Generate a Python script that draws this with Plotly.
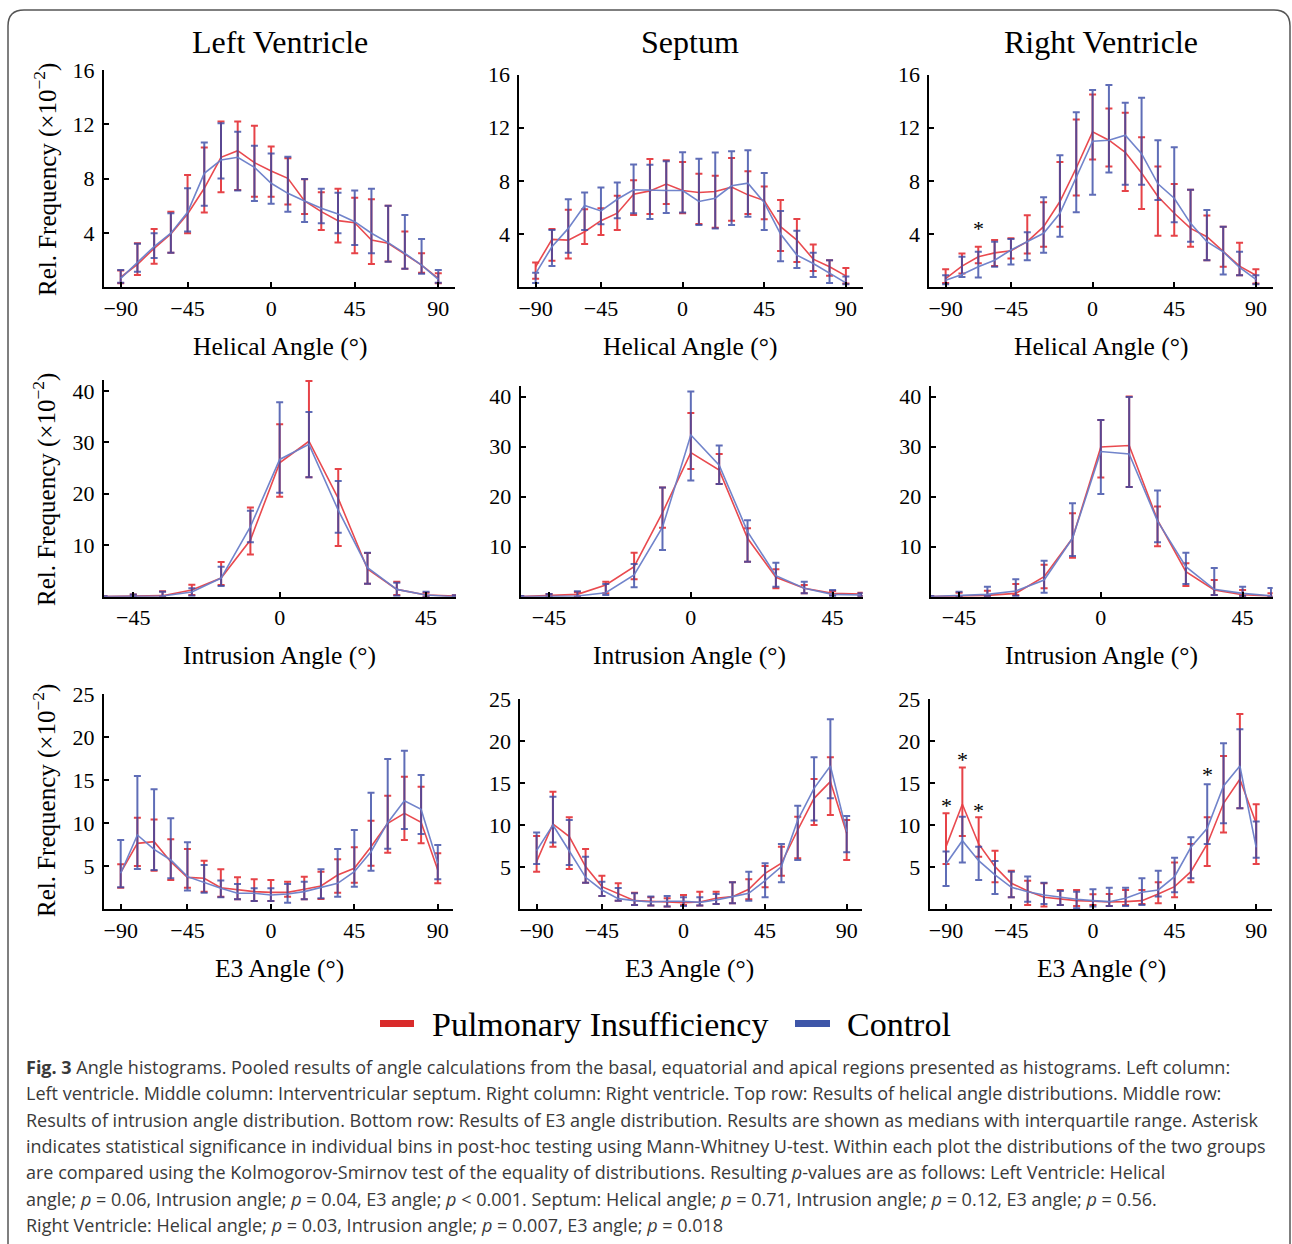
import plotly.graph_objects as go

W, H = 1292, 1244
SERIF = "Liberation Serif, Times New Roman, serif"
SANS = "Open Sans, Noto Sans, sans-serif"

# ---------------- data (medians and interquartile range, x10^-2) ----------------
bins20 = list(range(1, 21))                      # helical / E3 bin index
bins_intr = [-54, -45, -36, -27, -18, -9, 0, 9, 18, 27, 36, 45, 54]   # intrusion angle bins
tick20_vals = [1, 5, 10, 15, 20]
tick20_text = ["\u221290", "\u221245", "0", "45", "90"]
tickintr_vals = [-45, 0, 45]
tickintr_text = ["\u221245", "0", "45"]

groups = ["Pulmonary Insufficiency", "Control"]

# Left ventricle - helical
lv_hel_pi_med = [0.74, 1.69, 2.87, 3.93, 5.4, 7.29, 9.57, 10.06, 9.18, 8.56, 8.02, 6.36, 5.57, 4.91, 4.76, 3.48, 3.24, 2.45, 1.64, 0.66]
lv_hel_pi_lo = [0.29, 0.9, 1.74, 2.55, 3.98, 5.5, 7.0, 7.17, 6.67, 6.67, 6.09, 5.4, 4.22, 3.29, 2.5, 1.72, 1.9, 1.37, 1.08, 0.29]
lv_hel_pi_hi = [1.23, 3.24, 4.3, 5.57, 8.27, 10.3, 12.2, 12.2, 11.9, 10.36, 9.5, 7.95, 7.0, 7.26, 6.6, 6.48, 6.0, 4.1, 2.5, 1.03]
lv_hel_ctl_med = [0.66, 1.84, 3.0, 3.98, 5.52, 8.39, 9.37, 9.57, 8.83, 7.66, 6.92, 6.36, 5.82, 5.4, 4.83, 3.98, 3.29, 2.5, 1.64, 0.59]
lv_hel_ctl_lo = [0.34, 1.15, 2.16, 2.55, 4.1, 6.01, 8.02, 7.12, 6.36, 6.16, 5.57, 4.81, 4.71, 3.98, 3.12, 2.5, 1.89, 1.37, 1.0, 0.34]
lv_hel_ctl_hi = [1.28, 3.2, 3.98, 5.45, 7.29, 10.67, 12.07, 11.46, 10.43, 9.86, 9.62, 7.98, 7.26, 6.97, 7.12, 7.26, 6.01, 5.33, 3.56, 1.28]

# Septum - helical
sep_hel_pi_med = [1.54, 3.6, 3.55, 4.18, 5.01, 5.57, 7.0, 7.25, 7.76, 7.28, 7.13, 7.2, 7.53, 6.95, 6.52, 4.56, 3.55, 2.12, 1.54, 0.86]
sep_hel_pi_lo = [0.65, 1.99, 2.17, 3.25, 3.93, 4.3, 5.44, 5.52, 6.27, 5.57, 4.76, 4.48, 5.01, 5.52, 5.11, 2.72, 1.91, 1.23, 0.86, 0.28]
sep_hel_pi_hi = [1.86, 4.38, 5.84, 5.87, 5.94, 6.88, 8.04, 9.65, 9.55, 9.42, 8.54, 8.39, 9.72, 8.72, 7.58, 6.57, 5.14, 3.22, 2.04, 1.46]
sep_hel_ctl_med = [1.03, 3.05, 4.43, 6.15, 5.74, 6.62, 7.33, 7.28, 7.28, 7.28, 6.45, 6.7, 7.63, 7.83, 6.37, 4.0, 2.42, 1.79, 1.03, 0.33]
sep_hel_ctl_lo = [0.33, 1.61, 2.59, 4.3, 4.74, 5.19, 5.57, 5.14, 5.59, 5.62, 4.69, 4.43, 4.69, 5.31, 4.3, 1.96, 1.46, 0.78, 0.33, 0.23]
sep_hel_ctl_hi = [1.1, 4.3, 6.62, 7.13, 7.5, 7.88, 9.24, 9.22, 9.47, 10.15, 9.67, 10.13, 10.23, 10.3, 8.59, 5.74, 4.26, 2.59, 2.04, 0.81]

# Right ventricle - helical
rv_hel_pi_med = [0.65, 1.59, 2.29, 2.59, 2.75, 3.43, 4.56, 6.45, 8.97, 11.69, 11.06, 10.15, 8.59, 6.83, 5.57, 4.43, 3.8, 2.67, 1.59, 0.91]
rv_hel_pi_lo = [0.33, 1.03, 1.8, 1.61, 2.17, 2.54, 3.05, 4.56, 6.9, 9.6, 9.09, 7.25, 5.89, 3.88, 3.88, 3.05, 2.04, 1.54, 0.91, 0.28]
rv_hel_pi_hi = [1.36, 2.54, 3.05, 3.55, 3.68, 5.42, 6.4, 9.42, 12.62, 14.5, 13.45, 13.12, 11.28, 9.09, 7.76, 7.33, 5.39, 4.56, 3.35, 1.36]
rv_hel_ctl_med = [0.53, 0.96, 1.54, 2.04, 2.8, 3.43, 4.06, 5.57, 8.34, 10.98, 11.06, 11.44, 10.05, 7.78, 6.7, 4.81, 3.43, 2.67, 1.49, 0.6]
rv_hel_ctl_lo = [0.23, 0.78, 0.73, 1.54, 1.71, 2.04, 2.59, 3.8, 5.64, 6.95, 8.64, 7.71, 7.71, 6.57, 4.89, 3.43, 2.04, 0.96, 0.91, 0.23]
rv_hel_ctl_hi = [0.91, 2.29, 2.67, 3.43, 3.63, 4.13, 6.78, 9.92, 13.17, 14.84, 15.21, 13.88, 14.26, 11.06, 10.53, 7.33, 5.82, 4.56, 2.67, 0.91]
rv_hel_sig_bins = [3]
rv_hel_sig_y = [4.83]

# Left ventricle - intrusion
lv_int_pi_med = [0.05, 0.13, 0.2, 1.29, 3.62, 11.0, 26.0, 30.2, 19.1, 5.37, 1.42, 0.32, 0.13]
lv_int_pi_lo = [0.0, 0.0, 0.0, 0.32, 2.27, 8.22, 19.4, 23.2, 9.84, 2.52, 0.32, 0.0, 0.0]
lv_int_pi_hi = [0.1, 0.45, 1.04, 2.33, 6.73, 17.35, 33.5, 41.9, 24.8, 8.5, 2.9, 0.78, 0.3]
lv_int_ctl_med = [0.05, 0.13, 0.13, 0.9, 3.62, 13.59, 26.67, 29.6, 16.8, 5.63, 1.42, 0.32, 0.0]
lv_int_ctl_lo = [0.0, 0.0, 0.0, 0.2, 2.07, 10.6, 20.2, 23.2, 12.4, 2.52, 0.2, 0.0, 0.0]
lv_int_ctl_hi = [0.1, 0.45, 0.97, 1.62, 5.83, 16.7, 37.8, 35.9, 22.5, 8.54, 2.7, 0.97, 0.3]

# Septum - intrusion
sep_int_pi_med = [0.05, 0.2, 0.47, 2.33, 6.0, 16.8, 28.8, 25.3, 11.67, 3.87, 1.67, 0.67, 0.53]
sep_int_pi_lo = [0.0, 0.0, 0.0, 0.67, 3.47, 13.8, 25.5, 22.5, 7.0, 1.67, 0.67, 0.33, 0.13]
sep_int_pi_hi = [0.15, 0.53, 0.9, 3.0, 8.8, 21.8, 36.7, 28.5, 13.67, 5.47, 2.33, 1.13, 0.8]
sep_int_ctl_med = [0.05, 0.07, 0.13, 0.8, 4.33, 13.87, 32.3, 26.3, 13.0, 4.2, 1.67, 0.47, 0.33]
sep_int_ctl_lo = [0.0, 0.0, 0.0, 0.33, 1.87, 9.33, 23.2, 22.5, 7.0, 2.0, 0.67, 0.13, 0.13]
sep_int_ctl_hi = [0.15, 0.53, 1.07, 2.53, 6.53, 21.8, 41.0, 30.2, 15.3, 6.8, 3.0, 1.33, 0.67]

# Right ventricle - intrusion
rv_int_pi_med = [0.03, 0.13, 0.27, 0.67, 4.0, 11.67, 29.9, 30.2, 15.3, 5.0, 1.33, 0.4, 0.13]
rv_int_pi_lo = [0.0, 0.0, 0.13, 0.33, 1.67, 7.8, 23.8, 21.9, 10.1, 2.13, 0.33, 0.13, 0.0]
rv_int_pi_hi = [0.13, 0.8, 1.2, 2.53, 6.4, 16.67, 35.3, 40.0, 18.0, 6.67, 3.33, 1.33, 0.67]
rv_int_ctl_med = [0.03, 0.2, 0.47, 1.13, 3.33, 11.67, 29.0, 28.5, 15.1, 6.0, 1.47, 0.67, 0.2]
rv_int_ctl_lo = [0.0, 0.0, 0.13, 0.13, 0.8, 8.13, 20.5, 21.9, 10.9, 2.53, 0.33, 0.13, 0.0]
rv_int_ctl_hi = [0.13, 1.0, 2.0, 3.47, 7.2, 18.67, 35.3, 39.9, 21.2, 8.8, 5.73, 2.0, 1.73]

# Left ventricle - E3
lv_e3_pi_med = [4.26, 7.66, 7.85, 5.53, 3.71, 3.6, 2.51, 2.32, 2.05, 1.97, 1.97, 2.32, 2.71, 3.98, 4.76, 7.27, 9.98, 11.14, 10.1, 4.56]
lv_e3_pi_lo = [2.51, 5.03, 4.49, 3.4, 2.51, 2.05, 1.47, 1.16, 0.97, 0.97, 1.47, 1.16, 1.2, 1.93, 3.09, 5.07, 6.58, 8.05, 7.66, 3.02]
lv_e3_pi_hi = [5.22, 10.64, 10.44, 8.12, 7.0, 5.65, 4.64, 3.71, 3.48, 3.4, 3.21, 3.79, 4.37, 5.8, 7.2, 10.29, 13.19, 15.4, 14.24, 6.5]
lv_e3_ctl_med = [4.18, 8.63, 6.96, 5.73, 3.79, 3.09, 2.44, 1.86, 1.86, 1.66, 1.78, 2.05, 2.55, 3.02, 4.37, 6.69, 10.06, 12.61, 11.61, 5.34]
lv_e3_ctl_lo = [2.55, 4.68, 4.56, 3.6, 2.17, 1.93, 1.39, 1.16, 0.97, 0.97, 0.77, 1.16, 1.28, 1.47, 2.63, 4.49, 7.04, 9.32, 8.74, 3.48]
lv_e3_ctl_hi = [8.05, 15.47, 13.93, 10.56, 7.78, 5.14, 3.33, 2.94, 2.44, 2.44, 2.94, 3.21, 4.64, 7.0, 9.21, 13.54, 17.45, 18.41, 15.59, 7.47]

# Septum - E3
sep_e3_pi_med = [5.67, 10.16, 8.65, 5.08, 2.7, 1.83, 1.03, 0.95, 0.83, 0.79, 0.87, 1.31, 1.51, 2.38, 4.29, 5.48, 9.44, 13.21, 15.2, 9.05]
sep_e3_pi_lo = [4.48, 7.46, 4.8, 3.17, 1.59, 1.03, 0.52, 0.44, 0.32, 0.52, 0.44, 0.63, 0.71, 1.19, 2.62, 4.0, 6.07, 10.04, 11.23, 5.87]
sep_e3_pi_hi = [8.73, 14.0, 10.95, 7.18, 4.0, 3.1, 1.98, 1.43, 1.31, 1.71, 2.1, 2.1, 3.21, 3.57, 5.16, 7.46, 11.03, 15.52, 18.1, 10.63]
sep_e3_ctl_med = [6.98, 10.04, 6.94, 3.81, 2.3, 1.27, 1.03, 0.87, 0.95, 0.95, 0.83, 1.11, 1.51, 1.9, 3.41, 5.08, 10.63, 14.4, 17.06, 9.25]
sep_e3_ctl_lo = [5.4, 7.94, 5.28, 3.17, 1.59, 1.03, 0.52, 0.44, 0.32, 0.4, 0.44, 0.63, 0.71, 1.03, 1.43, 3.21, 5.87, 10.56, 13.21, 6.79]
sep_e3_ctl_hi = [9.13, 13.4, 10.63, 6.27, 3.29, 2.54, 1.9, 1.51, 1.59, 1.43, 1.43, 1.83, 3.21, 4.48, 5.48, 7.78, 12.34, 18.1, 22.62, 11.11]

# Right ventricle - E3
rv_e3_pi_med = [7.46, 12.5, 7.78, 5.08, 3.1, 2.18, 1.43, 1.19, 1.03, 0.95, 0.87, 0.91, 1.03, 1.83, 2.7, 4.48, 7.78, 12.62, 15.48, 10.24]
rv_e3_pi_lo = [5.4, 8.73, 6.27, 3.21, 1.43, 0.52, 0.32, 0.52, 0.4, 0.52, 0.4, 0.52, 0.63, 0.71, 1.43, 3.21, 5.16, 9.13, 12.02, 5.4]
rv_e3_pi_hi = [11.43, 16.87, 10.95, 6.98, 4.6, 3.41, 3.1, 2.3, 2.3, 1.79, 1.83, 2.3, 2.3, 3.21, 5.56, 7.78, 10.95, 18.25, 23.25, 12.5]
rv_e3_ctl_med = [5.4, 8.17, 5.79, 4.09, 2.62, 2.1, 1.71, 1.43, 1.19, 1.03, 0.91, 1.31, 2.02, 2.3, 3.89, 7.38, 9.64, 14.68, 17.06, 7.38]
rv_e3_ctl_lo = [2.78, 5.56, 3.49, 1.83, 1.43, 0.91, 0.63, 0.52, 0.12, 0.32, 0.4, 0.4, 0.52, 1.51, 2.02, 3.69, 7.78, 10.24, 12.02, 6.15]
rv_e3_ctl_hi = [6.87, 11.03, 7.46, 5.75, 4.48, 3.89, 3.17, 2.18, 2.1, 2.38, 2.58, 2.58, 3.69, 4.6, 6.15, 8.57, 14.88, 19.76, 21.43, 10.44]
rv_e3_sig_bins = [1, 2, 3, 17]
rv_e3_sig_y = [13.0, 18.45, 12.4, 16.6]

col_titles = ["Left Ventricle", "Septum", "Right Ventricle"]
row_xtitles = ["Helical Angle (\u00b0)", "Intrusion Angle (\u00b0)", "E3 Angle (\u00b0)"]
ytitle = "Rel. Frequency (\u00d710<sup>\u22122</sup>)"

caption_lines = [
    "<b>Fig. 3</b> Angle histograms. Pooled results of angle calculations from the basal, equatorial and apical regions presented as histograms. Left column:",
    "Left ventricle. Middle column: Interventricular septum. Right column: Right ventricle. Top row: Results of helical angle distributions. Middle row:",
    "Results of intrusion angle distribution. Bottom row: Results of E3 angle distribution. Results are shown as medians with interquartile range. Asterisk",
    "indicates statistical significance in individual bins in post-hoc testing using Mann-Whitney U-test. Within each plot the distributions of the two groups",
    "are compared using the Kolmogorov-Smirnov test of the equality of distributions. Resulting <i>p</i>-values are as follows: Left Ventricle: Helical",
    "angle; <i>p</i> = 0.06, Intrusion angle; <i>p</i> = 0.04, E3 angle; <i>p</i> &lt; 0.001. Septum: Helical angle; <i>p</i> = 0.71, Intrusion angle; <i>p</i> = 0.12, E3 angle; <i>p</i> = 0.56.",
    "Right Ventricle: Helical angle; <i>p</i> = 0.03, Intrusion angle; <i>p</i> = 0.007, E3 angle; <i>p</i> = 0.018",
]

# ---------------- styling / geometry ----------------
RED_LINE = "rgba(232,64,70,0.95)"
BLUE_LINE = "rgba(105,125,200,0.95)"
RED_ERR = "rgba(226,34,40,0.85)"
BLUE_ERR = "rgba(55,72,165,0.8)"
RED_LEG = "#D92B2B"
BLUE_LEG = "#3E56A8"


def fx(px):
    return px / W


def fy(py):
    return 1 - py / H


# panel: (data, x, xtickvals, xticktext, xrange, xdom_px, yrange, ydom_px(bottom, top), ytickvals)
panels = [
    ((lv_hel_pi_med, lv_hel_pi_lo, lv_hel_pi_hi, lv_hel_ctl_med, lv_hel_ctl_lo, lv_hel_ctl_hi), bins20, tick20_vals, tick20_text, [0, 21], (104, 455), [0, 16], (287.3, 70.0), [4, 8, 12, 16]),
    ((sep_hel_pi_med, sep_hel_pi_lo, sep_hel_pi_hi, sep_hel_ctl_med, sep_hel_ctl_lo, sep_hel_ctl_hi), bins20, tick20_vals, tick20_text, [0, 21.03], (519.3, 862.7), [0, 16], (287.3, 74.5), [4, 8, 12, 16]),
    ((rv_hel_pi_med, rv_hel_pi_lo, rv_hel_pi_hi, rv_hel_ctl_med, rv_hel_ctl_lo, rv_hel_ctl_hi), bins20, tick20_vals, tick20_text, [0, 21.03], (929.3, 1272.7), [0, 16], (287.3, 74.5), [4, 8, 12, 16]),
    ((lv_int_pi_med, lv_int_pi_lo, lv_int_pi_hi, lv_int_ctl_med, lv_int_ctl_lo, lv_int_ctl_hi), bins_intr, tickintr_vals, tickintr_text, [-54, 54.2], (104, 456), [0, 42.1], (596.7, 380.0), [10, 20, 30, 40]),
    ((sep_int_pi_med, sep_int_pi_lo, sep_int_pi_hi, sep_int_ctl_med, sep_int_ctl_lo, sep_int_ctl_hi), bins_intr, tickintr_vals, tickintr_text, [-54, 54.55], (520.7, 862.7), [0, 42.1], (596.7, 386.0), [10, 20, 30, 40]),
    ((rv_int_pi_med, rv_int_pi_lo, rv_int_pi_hi, rv_int_ctl_med, rv_int_ctl_lo, rv_int_ctl_hi), bins_intr, tickintr_vals, tickintr_text, [-54, 54.55], (930.7, 1272.7), [0, 42.1], (596.7, 386.0), [10, 20, 30, 40]),
    ((lv_e3_pi_med, lv_e3_pi_lo, lv_e3_pi_hi, lv_e3_ctl_med, lv_e3_ctl_lo, lv_e3_ctl_hi), bins20, tick20_vals, tick20_text, [0, 20.93], (104, 453.3), [0, 25], (909.3, 694.0), [5, 10, 15, 20, 25]),
    ((sep_e3_pi_med, sep_e3_pi_lo, sep_e3_pi_hi, sep_e3_ctl_med, sep_e3_ctl_lo, sep_e3_ctl_hi), bins20, tick20_vals, tick20_text, [0, 20.92], (520.3, 861.7), [0, 25], (909.3, 699.3), [5, 10, 15, 20, 25]),
    ((rv_e3_pi_med, rv_e3_pi_lo, rv_e3_pi_hi, rv_e3_ctl_med, rv_e3_ctl_lo, rv_e3_ctl_hi), bins20, tick20_vals, tick20_text, [0, 20.95], (929.7, 1271.7), [0, 25], (909.3, 699.3), [5, 10, 15, 20, 25]),
]

fig = go.Figure()
layout = dict(
    width=W, height=H,
    margin=dict(l=0, r=0, t=0, b=0, pad=0, autoexpand=False),
    paper_bgcolor="white", plot_bgcolor="white",
    font=dict(family=SERIF, color="black"),
    showlegend=False,
)

for i, (data, xs, tv, tt, xr, xd, yr, yd, ytv) in enumerate(panels):
    n = i + 1
    xa = "x" if n == 1 else f"x{n}"
    ya = "y" if n == 1 else f"y{n}"
    pm, pl, ph, cm, cl, ch = data
    for med, lo, hi, lc, ec, name in ((pm, pl, ph, RED_LINE, RED_ERR, groups[0]), (cm, cl, ch, BLUE_LINE, BLUE_ERR, groups[1])):
        fig.add_trace(go.Scatter(
            x=xs, y=med, mode="lines", name=name, showlegend=False,
            line=dict(color=lc, width=1.6),
            error_y=dict(type="data", symmetric=False,
                         array=[h - m for h, m in zip(hi, med)],
                         arrayminus=[m - l for m, l in zip(med, lo)],
                         color=ec, thickness=2, width=3.5),
            xaxis=xa, yaxis=ya, hoverinfo="skip", cliponaxis=False,
        ))
    axcommon = dict(showline=True, linecolor="black", linewidth=2, ticks="inside",
                    ticklen=5, tickwidth=1.5, tickcolor="black", showgrid=False,
                    zeroline=False, tickfont=dict(family=SERIF, size=22, color="black"),
                    fixedrange=True, automargin=False)
    layout["xaxis" if n == 1 else f"xaxis{n}"] = dict(
        axcommon, domain=[fx(xd[0]), fx(xd[1])], range=xr, anchor=ya,
        tickmode="array", tickvals=tv, ticktext=tt, ticklabelstandoff=0)
    layout["yaxis" if n == 1 else f"yaxis{n}"] = dict(
        axcommon, domain=[fy(yd[0]), fy(yd[1])], range=yr, anchor=xa,
        tickmode="array", tickvals=ytv, ticklabelstandoff=3)

annotations = []
col_cx = [279.5, 690, 1101]
for c, t in enumerate(col_titles):
    annotations.append(dict(text=t, x=fx(col_cx[c]), y=fy(42), xref="paper", yref="paper",
                            xanchor="center", yanchor="middle", showarrow=False,
                            font=dict(family=SERIF, size=32, color="black")))
row_xt_y = [346, 656, 968]
for r, t in enumerate(row_xtitles):
    for c in range(3):
        annotations.append(dict(text=t, x=fx(col_cx[c]), y=fy(row_xt_y[r]), xref="paper", yref="paper",
                                xanchor="center", yanchor="middle", showarrow=False,
                                font=dict(family=SERIF, size=25.5, color="black")))
row_yt_y = [180, 490, 801]
for r in range(3):
    annotations.append(dict(text=ytitle, x=fx(45), y=fy(row_yt_y[r]), xref="paper", yref="paper",
                            xanchor="center", yanchor="middle", showarrow=False, textangle=-90,
                            font=dict(family=SERIF, size=25, color="black")))

# significance asterisks
for b, yv in zip(rv_hel_sig_bins, rv_hel_sig_y):
    annotations.append(dict(text="*", x=b, y=yv, xref="x3", yref="y3", showarrow=False,
                            xanchor="center", yanchor="middle", yshift=-5,
                            font=dict(family=SERIF, size=22, color="black")))
for b, yv in zip(rv_e3_sig_bins, rv_e3_sig_y):
    annotations.append(dict(text="*", x=b, y=yv, xref="x9", yref="y9", showarrow=False,
                            xanchor="center", yanchor="middle", yshift=-5,
                            font=dict(family=SERIF, size=22, color="black")))

# legend (swatches drawn as shapes, labels as text)
leg_items = [(groups[0], RED_LEG, 380, 414, 430), (groups[1], BLUE_LEG, 795, 830, 845)]
shapes = []
for name, col, sx0, sx1, tx in leg_items:
    shapes.append(dict(type="rect", xref="paper", yref="paper",
                       x0=fx(sx0), x1=fx(sx1), y0=fy(1027), y1=fy(1020),
                       fillcolor=col, line=dict(width=0)))
    annotations.append(dict(text=name, x=fx(tx), y=fy(1024), xref="paper", yref="paper",
                            xanchor="left", yanchor="middle", showarrow=False,
                            font=dict(family=SERIF, size=34, color="black")))

# caption
cap_y0 = 1067
for k, line in enumerate(caption_lines):
    annotations.append(dict(text=line, x=fx(24), y=fy(cap_y0 + k * 26.3), xref="paper", yref="paper",
                            xanchor="left", yanchor="middle", showarrow=False, align="left",
                            font=dict(family=SANS, size=18, color="#3a3a3a")))

layout["annotations"] = annotations

# rounded frame
x0, x1, y0, y1, rr = 8, 1290, 10, 1260, 16
path = (f"M {fx(x0)},{fy(y1)} L {fx(x0)},{fy(y0 + rr)} Q {fx(x0)},{fy(y0)} {fx(x0 + rr)},{fy(y0)} "
        f"L {fx(x1 - rr)},{fy(y0)} Q {fx(x1)},{fy(y0)} {fx(x1)},{fy(y0 + rr)} L {fx(x1)},{fy(y1)}")
shapes.append(dict(type="path", path=path, xref="paper", yref="paper",
                   line=dict(color="#555555", width=1.5)))
layout["shapes"] = shapes

fig.update_layout(**layout)
fig.write_html("out.html")
